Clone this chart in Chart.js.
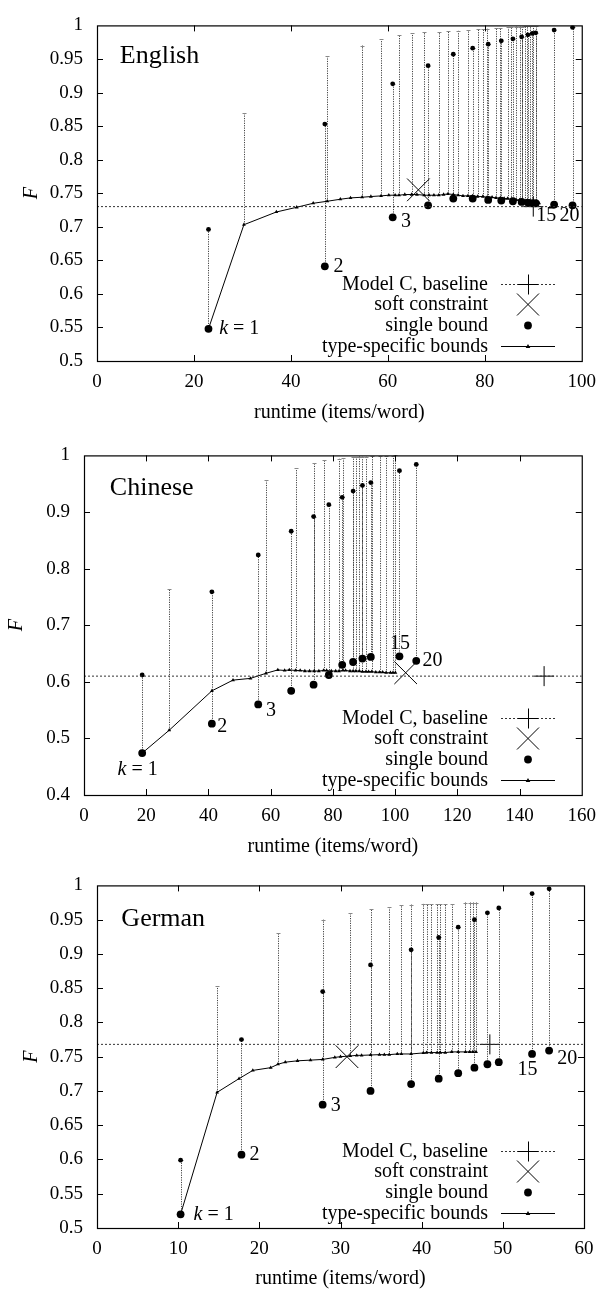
<!DOCTYPE html>
<html><head><meta charset="utf-8">
<script src="https://cdn.jsdelivr.net/npm/chart.js@4.4.1/dist/chart.umd.min.js"></script>
<style>
html,body{margin:0;padding:0;background:#fff;width:606px;height:1289px;overflow:hidden}
.p{position:absolute;left:0;width:606px}
canvas{display:block}
</style></head><body>
<div class="p" style="top:0"><canvas id="c1" width="606" height="430"></canvas></div>
<div class="p" style="top:430px"><canvas id="c2" width="606" height="430"></canvas></div>
<div class="p" style="top:860px"><canvas id="c3" width="606" height="429"></canvas></div>
<script>
// ---------- shared text ----------
const xTitle = 'runtime (items/word)';
const yTitle = 'F';
const legendLabels = ['Model C, baseline', 'soft constraint', 'single bound', 'type-specific bounds'];
const kLabels = ['k = 1', '2', '3', '15', '20'];

// ---------- English ----------
const enTsX = [23, 30.3, 37, 41.2, 44.6, 47.5, 50.2, 52.3, 54.7, 56.5, 58.6, 60.2, 61.5, 62.3, 63.5, 64.9, 66, 67.5, 68.5, 69.5, 70.5, 71.5, 72.4, 73.5, 74.5, 75.5, 76.5, 77.5, 78.5, 79.6, 80.5, 81.5, 82.3, 83.2, 84, 84.7, 85.5, 86.5, 87.2, 87.7, 88.3, 88.8, 89.4, 90, 90.6, 91.2];
const enTsY = [0.548, 0.703, 0.722, 0.729, 0.735, 0.738, 0.741, 0.743, 0.744, 0.745, 0.746, 0.747, 0.747, 0.747, 0.748, 0.748, 0.748, 0.747, 0.747, 0.747, 0.747, 0.748, 0.749, 0.748, 0.747, 0.746, 0.746, 0.746, 0.745, 0.745, 0.744, 0.744, 0.743, 0.743, 0.742, 0.742, 0.741, 0.740, 0.740, 0.739, 0.739, 0.738, 0.738, 0.737, 0.736, 0.735];
const enTsTop = [null, 0.870, null, null, null, 0.955, null, null, 0.970, null, 0.979, null, null, 0.985, null, 0.988, null, 0.990, null, null, 0.990, null, 0.991, null, 0.992, null, 0.993, null, 0.994, 0.994, 0.995, null, 0.996, 0.996, null, 0.997, 0.997, 0.998, 0.998, 0.998, 0.999, 0.999, 0.999, 0.999, 0.999, null];
const enSbX = [23, 47, 61, 68.3, 73.5, 77.5, 80.7, 83.4, 85.8, 87.6, 88.9, 89.8, 90.5, 94.3, 98.1];
const enSbY = [0.548, 0.641, 0.714, 0.732, 0.742, 0.742, 0.740, 0.739, 0.738, 0.737, 0.736, 0.735, 0.735, 0.733, 0.732];
const enSbHi = [0.696, 0.853, 0.913, 0.940, 0.957, 0.966, 0.972, 0.977, 0.980, 0.983, 0.986, 0.988, 0.989, 0.993, 0.997];
const enSoftX = [66.3], enSoftY = [0.755];
const enBaseX = [90], enBaseY = [0.73];
const enLabX = [25.2, 48.8, 62.7, 90.6, 95.4];
const enLabY = [0.548, 0.640, 0.708, 0.716, 0.716];

// ---------- Chinese ----------
const cnTsX = [18.7, 27.4, 41.1, 47.9, 53.5, 58.5, 62.3, 64.5, 66, 68, 69.5, 71, 72.5, 74, 75.5, 77, 78, 79.5, 80.9, 82, 83.2, 84.1, 85.5, 86.5, 87.4, 88.5, 89.5, 90.6, 91.5, 92.5, 93.8, 95, 96, 97.1, 98.5, 99.3, 100.1];
const cnTsY = [0.474, 0.5145, 0.584, 0.603, 0.606, 0.615, 0.621, 0.620, 0.621, 0.620, 0.620, 0.619, 0.619, 0.619, 0.619, 0.620, 0.620, 0.619, 0.619, 0.619, 0.620, 0.620, 0.619, 0.619, 0.619, 0.619, 0.618, 0.618, 0.618, 0.618, 0.617, 0.617, 0.617, 0.616, 0.616, 0.616, 0.616];
const cnTsTop = [null, 0.7645, null, null, null, 0.956, null, null, null, 0.977, null, null, null, 0.987, null, 0.991, null, null, null, 0.994, 0.996, null, null, 0.997, 0.997, 0.998, 0.998, 0.998, null, 0.999, null, 0.999, null, 0.999, null, 0.999, 1.0];
const cnSbX = [18.7, 41.1, 56, 66.6, 73.8, 78.7, 83, 86.5, 89.5, 92.2, 101.4, 106.8];
const cnSbY = [0.474, 0.526, 0.560, 0.584, 0.595, 0.612, 0.630, 0.635, 0.641, 0.644, 0.645, 0.637];
const cnSbHi = [0.612, 0.759, 0.824, 0.866, 0.892, 0.913, 0.926, 0.937, 0.947, 0.952, 0.973, 0.984];
const cnSoftX = [103.4], cnSoftY = [0.616];
const cnBaseX = [147.9], cnBaseY = [0.61];
const cnLabX = [10.8, 42.8, 58.5, 98.4, 108.8];
const cnLabY = [0.445, 0.520, 0.549, 0.668, 0.638];

// ---------- German ----------
const deTsX = [10.3, 14.8, 17.5, 19.2, 21.4, 22.3, 23.2, 24.7, 26.3, 27.8, 29.3, 30, 31.2, 32, 32.6, 33.7, 34.8, 35.4, 36, 37, 37.5, 38.7, 40.2, 40.6, 41.2, 41.9, 42.3, 42.9, 43.7, 44.5, 45.4, 45.9, 46.3, 46.7];
const deTsY = [0.52, 0.698, 0.718, 0.730, 0.734, 0.739, 0.742, 0.744, 0.745, 0.746, 0.749, 0.750, 0.751, 0.752, 0.752, 0.7525, 0.753, 0.753, 0.753, 0.754, 0.754, 0.754, 0.7555, 0.756, 0.756, 0.756, 0.756, 0.756, 0.757, 0.757, 0.757, 0.757, 0.757, 0.757];
const deTsTop = [null, 0.853, null, null, null, 0.931, null, null, null, 0.950, null, null, 0.960, null, null, 0.965, null, null, 0.968, null, 0.971, 0.972, 0.973, 0.973, 0.973, 0.973, 0.973, 0.973, 0.973, null, 0.975, 0.975, 0.975, 0.975];
const deSbX = [10.3, 17.8, 27.8, 33.7, 38.7, 42.1, 44.5, 46.5, 48.1, 49.5, 53.6, 55.7];
const deSbY = [0.520, 0.607, 0.680, 0.700, 0.710, 0.718, 0.726, 0.734, 0.739, 0.742, 0.754, 0.759];
const deSbHi = [0.599, 0.775, 0.845, 0.884, 0.906, 0.924, 0.939, 0.950, 0.960, 0.967, 0.988, 0.995];
const deSoftX = [30.8], deSoftY = [0.75];
const deBaseX = [48.4], deBaseY = [0.768];
const deLabX = [11.9, 18.8, 28.8, 51.8, 56.7];
const deLabY = [0.519, 0.607, 0.678, 0.731, 0.747];

const SERIF = '"Liberation Serif", "DejaVu Serif", "Times New Roman", serif';

function fmt(v) { return String(+(+v).toFixed(2)); }

function makePanel(canvasId, p) {
  const canvas = document.getElementById(canvasId);
  const H = canvas.height, W = canvas.width;
  const font = (size, style) => ({ family: SERIF, size: size, style: style || 'normal', lineHeight: 1.2 });
  const xy = (xs, ys) => xs.map((x, i) => ({ x: x, y: ys[i] }));

  const deco = {
    id: 'deco_' + canvasId,
    beforeDatasetsDraw(chart) {
      const { ctx, chartArea: a, scales: { x, y } } = chart;
      ctx.save();
      ctx.beginPath(); ctx.rect(a.left, a.top - 2, a.right - a.left, a.bottom - a.top + 2); ctx.clip();
      const seg = (xv, y0, y1) => {
        const px = Math.round(x.getPixelForValue(xv)) + 0.5;
        const pa = y.getPixelForValue(y0), pb = y.getPixelForValue(y1);
        ctx.strokeStyle = '#444'; ctx.lineWidth = 1; ctx.setLineDash([1.2, 1.2]);
        ctx.beginPath(); ctx.moveTo(px, pa); ctx.lineTo(px, pb); ctx.stroke();
        ctx.setLineDash([]); ctx.strokeStyle = '#888';
        ctx.beginPath(); ctx.moveTo(px - 2, Math.round(pb) + 0.5); ctx.lineTo(px + 2, Math.round(pb) + 0.5); ctx.stroke();
      };
      p.tsX.forEach((xv, i) => { if (p.tsTop[i] != null) seg(xv, p.tsY[i], p.tsTop[i]); });
      p.sbX.forEach((xv, i) => seg(xv, p.sbY[i], p.sbHi[i]));
      ctx.restore();
    },
    afterDraw(chart) {
      const { ctx, chartArea: a, scales: { x, y } } = chart;
      ctx.save();
      ctx.strokeStyle = '#000'; ctx.lineWidth = 1.2; ctx.setLineDash([]);
      ctx.strokeRect(a.left + 0.5, a.top + 0.5, a.right - a.left, a.bottom - a.top);
      const tl = 6;
      ctx.lineWidth = 1;
      ctx.beginPath();
      x.ticks.forEach(t => {
        if (t.value <= p.xMin || t.value >= p.xMax) return;
        const px = Math.round(x.getPixelForValue(t.value)) + 0.5;
        ctx.moveTo(px, a.bottom); ctx.lineTo(px, a.bottom - tl);
        ctx.moveTo(px, a.top); ctx.lineTo(px, a.top + tl);
      });
      y.ticks.forEach(t => {
        if (t.value <= p.yMin + 1e-9 || t.value >= p.yMax - 1e-9) return;
        const py = Math.round(y.getPixelForValue(t.value)) + 0.5;
        ctx.moveTo(a.left, py); ctx.lineTo(a.left + tl, py);
        ctx.moveTo(a.right, py); ctx.lineTo(a.right - tl, py);
      });
      ctx.stroke();

      ctx.fillStyle = '#000';
      ctx.textBaseline = 'middle'; ctx.textAlign = 'left';
      ctx.font = '26px ' + SERIF;
      ctx.fillText(p.name, x.getPixelForValue(p.nameX), y.getPixelForValue(p.nameY));

      ctx.font = '20px ' + SERIF;
      kLabels.forEach((s, i) => {
        let px = x.getPixelForValue(p.labX[i]);
        const py = y.getPixelForValue(p.labY[i]);
        if (s.startsWith('k ')) {
          ctx.font = 'italic 20px ' + SERIF;
          ctx.fillText('k', px, py);
          px += ctx.measureText('k').width;
          ctx.font = '20px ' + SERIF;
          ctx.fillText(s.slice(1), px, py);
        } else {
          ctx.fillText(s, px, py);
        }
      });

      const textRight = 488, sL = 501, sR = 555, sC = 528;
      ctx.textAlign = 'right';
      legendLabels.forEach((s, i) => {
        const ry = Math.round(a.bottom - 15 - (legendLabels.length - 1 - i) * 20.8) + 0.5;
        ctx.fillStyle = '#000';
        ctx.fillText(s, textRight, ry);
        ctx.strokeStyle = '#000'; ctx.lineWidth = 1;
        if (i === 0) {
          ctx.setLineDash([2, 2]); ctx.strokeStyle = '#333';
          ctx.beginPath(); ctx.moveTo(sL, ry); ctx.lineTo(sR, ry); ctx.stroke();
          ctx.setLineDash([]); ctx.strokeStyle = '#000';
          ctx.beginPath(); ctx.moveTo(sC + 0.5, ry - 10); ctx.lineTo(sC + 0.5, ry + 10);
          ctx.moveTo(sC - 10, ry); ctx.lineTo(sC + 10, ry); ctx.stroke();
        } else if (i === 1) {
          const d = 11;
          ctx.beginPath(); ctx.moveTo(sC - d, ry - d); ctx.lineTo(sC + d, ry + d);
          ctx.moveTo(sC - d, ry + d); ctx.lineTo(sC + d, ry - d); ctx.stroke();
        } else if (i === 2) {
          ctx.beginPath(); ctx.arc(sC, ry, 3.9, 0, Math.PI * 2); ctx.fill();
        } else {
          ctx.beginPath(); ctx.moveTo(sL, ry); ctx.lineTo(sR, ry); ctx.stroke();
          ctx.beginPath(); ctx.moveTo(sC, ry - 2.5); ctx.lineTo(sC + 2.3, ry + 1.5); ctx.lineTo(sC - 2.3, ry + 1.5); ctx.closePath(); ctx.fill();
        }
      });
      ctx.restore();
    }
  };

  return new Chart(canvas, {
    type: 'scatter',
    data: {
      datasets: [
        { label: 'baseline line', data: [{ x: p.xMin, y: p.baseY[0] }, { x: p.xMax, y: p.baseY[0] }], showLine: true,
          borderColor: '#333', borderWidth: 1, borderDash: [2, 2], pointRadius: 0, backgroundColor: '#333' },
        { label: 'type-specific bounds', data: xy(p.tsX, p.tsY), showLine: true, borderColor: '#000', borderWidth: 1,
          pointStyle: 'triangle', pointRadius: 2.2, pointBackgroundColor: '#000', pointBorderColor: '#000', pointBorderWidth: 0, backgroundColor: '#000' },
        { label: 'single bound (upper)', data: xy(p.sbX, p.sbHi), pointRadius: 2.4,
          pointBackgroundColor: '#000', pointBorderColor: '#000', pointBorderWidth: 0, backgroundColor: '#000', borderColor: '#000' },
        { label: 'single bound', data: xy(p.sbX, p.sbY), pointRadius: 3.9,
          pointBackgroundColor: '#000', pointBorderColor: '#000', pointBorderWidth: 0, backgroundColor: '#000', borderColor: '#000' },
        { label: 'soft constraint', data: xy(p.softX, p.softY), pointStyle: 'crossRot', pointRadius: 16,
          pointBorderColor: '#000', pointBorderWidth: 1, borderColor: '#000', backgroundColor: '#000' },
        { label: 'Model C, baseline', data: xy(p.baseX, p.baseY), pointStyle: 'cross', pointRadius: 10,
          pointBorderColor: '#000', pointBorderWidth: 1, borderColor: '#000', backgroundColor: '#000' }
      ]
    },
    options: {
      responsive: false, animation: false, events: [],
      layout: { padding: { left: 0, right: W - p.area.right, top: p.area.top, bottom: 0 } },
      plugins: { legend: { display: false }, tooltip: { enabled: false } },
      scales: {
        x: {
          type: 'linear', min: p.xMin, max: p.xMax,
          grid: { display: false, drawTicks: false }, border: { display: false },
          ticks: { stepSize: p.xStep, color: '#000', font: font(19), padding: 10, maxRotation: 0, autoSkip: false, callback: v => fmt(v) },
          title: { display: true, text: xTitle, color: '#000', font: font(20), padding: { top: 0, bottom: p.xTitlePad } },
          afterFit: s => { s.height = H - p.area.bottom; }
        },
        y: {
          type: 'linear', min: p.yMin, max: p.yMax,
          grid: { display: false, drawTicks: false }, border: { display: false },
          ticks: { stepSize: p.yStep, color: '#000', font: font(19), padding: 14, autoSkip: false, callback: v => fmt(v) },
          title: { display: true, text: yTitle, color: '#000', font: font(20, 'italic'), padding: { top: p.yTitlePad, bottom: 0 } },
          afterFit: s => { s.width = p.area.left; }
        }
      }
    },
    plugins: [deco]
  });
}

makePanel('c1', {
  name: 'English', nameX: 4.7, nameY: 0.954,
  xMin: 0, xMax: 100, xStep: 20, yMin: 0.5, yMax: 1, yStep: 0.05,
  area: { left: 97, right: 584, top: 19, bottom: 361 }, xTitlePad: 5, yTitlePad: 20,
  tsX: enTsX, tsY: enTsY, tsTop: enTsTop, sbX: enSbX, sbY: enSbY, sbHi: enSbHi,
  softX: enSoftX, softY: enSoftY, baseX: enBaseX, baseY: enBaseY, labX: enLabX, labY: enLabY
});
makePanel('c2', {
  name: 'Chinese', nameX: 8.3, nameY: 0.942,
  xMin: 0, xMax: 160, xStep: 20, yMin: 0.4, yMax: 1, yStep: 0.1,
  area: { left: 84, right: 584, top: 20, bottom: 365 }, xTitlePad: 1, yTitlePad: 5,
  tsX: cnTsX, tsY: cnTsY, tsTop: cnTsTop, sbX: cnSbX, sbY: cnSbY, sbHi: cnSbHi,
  softX: cnSoftX, softY: cnSoftY, baseX: cnBaseX, baseY: cnBaseY, labX: cnLabX, labY: cnLabY
});
makePanel('c3', {
  name: 'German', nameX: 3.0, nameY: 0.95,
  xMin: 0, xMax: 60, xStep: 10, yMin: 0.5, yMax: 1, yStep: 0.05,
  area: { left: 97, right: 584, top: 22, bottom: 368 }, xTitlePad: -2, yTitlePad: 20,
  tsX: deTsX, tsY: deTsY, tsTop: deTsTop, sbX: deSbX, sbY: deSbY, sbHi: deSbHi,
  softX: deSoftX, softY: deSoftY, baseX: deBaseX, baseY: deBaseY, labX: deLabX, labY: deLabY
});
</script>
</body></html>
